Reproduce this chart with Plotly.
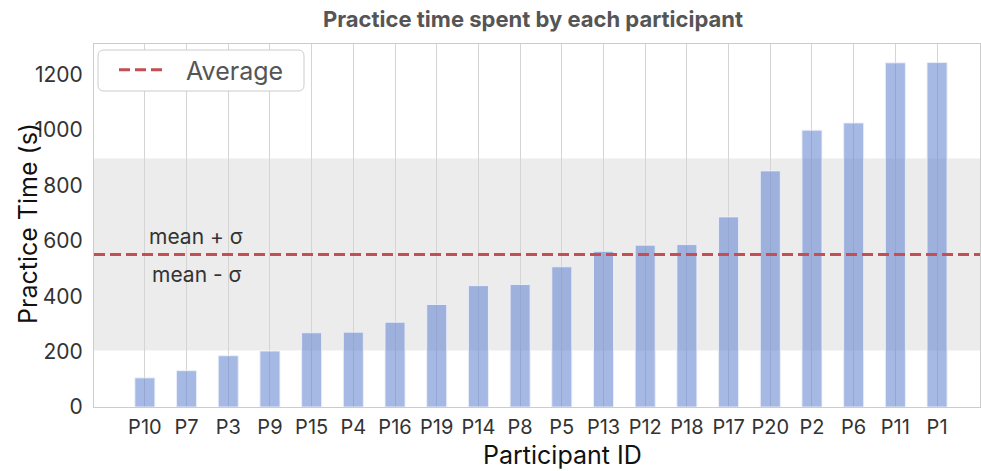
import numpy as np
import plotly.graph_objects as go

participants = ["P10", "P7", "P3", "P9", "P15", "P4", "P16", "P19", "P14", "P8",
                "P5", "P13", "P12", "P18", "P17", "P20", "P2", "P6", "P11", "P1"]
practice_time = [105, 131, 185, 202, 268, 270, 306, 370, 438, 442,
                 506, 562, 584, 586, 686, 852, 999, 1025, 1242, 1243]

mean_val = float(np.mean(practice_time))
std_val = float(np.std(practice_time))

FONT = "Inter, Roboto, sans-serif"

# plot-area pixel geometry (for paper-coordinate placement)
L, R, T, B = 94, 980, 44, 407
W, H = R - L, B - T


def px(x):
    return (x - L) / W


def py(y):
    return (B - y) / H


fig = go.Figure()
fig.add_trace(go.Bar(
    x=participants, y=practice_time, width=0.48,
    marker=dict(color="rgba(102,132,208,0.58)", line=dict(color="rgba(235,240,250,0.9)", width=1)),
    showlegend=False, hoverinfo="x+y",
))

# band mean ± sigma
fig.add_shape(type="rect", xref="paper", x0=0, x1=1, yref="y",
              y0=mean_val - std_val, y1=mean_val + std_val,
              fillcolor="#ececec", line=dict(width=0), layer="below")
# average line
fig.add_shape(type="line", xref="paper", x0=0, x1=1, yref="y", y0=mean_val, y1=mean_val,
              line=dict(color="#c44e52", width=3, dash="11px,5px"), layer="above",
              showlegend=True, name="\u00a0\u00a0Average")

# rounded legend frame
x0, x1, y0, y1 = px(98), px(304), py(91), py(50)
rx, ry = 6 / W, 6 / H
path = (f"M{x0+rx},{y0} L{x1-rx},{y0} Q{x1},{y0} {x1},{y0+ry} L{x1},{y1-ry} Q{x1},{y1} {x1-rx},{y1} "
        f"L{x0+rx},{y1} Q{x0},{y1} {x0},{y1-ry} L{x0},{y0+ry} Q{x0},{y0} {x0+rx},{y0} Z")
fig.add_shape(type="path", xref="paper", yref="paper", path=path,
              fillcolor="white", line=dict(color="#cccccc", width=1), layer="above")

fig.add_annotation(x=px(196), xref="paper", y=py(236), yref="paper", text="mean + σ",
                   showarrow=False, xanchor="center", yanchor="middle",
                   font=dict(family=FONT, size=21, color="#333333"))
fig.add_annotation(x=px(197), xref="paper", y=py(274), yref="paper", text="mean - σ",
                   showarrow=False, xanchor="center", yanchor="middle",
                   font=dict(family=FONT, size=21, color="#333333"))

# axis titles
fig.add_annotation(x=px(28), xref="paper", y=py(224), yref="paper", text="Practice Time (s)",
                   textangle=-90, showarrow=False, xanchor="center", yanchor="middle",
                   font=dict(family=FONT, size=25, color="#111111"))
fig.add_annotation(x=px(562), xref="paper", y=py(455), yref="paper", text="Participant ID",
                   showarrow=False, xanchor="center", yanchor="middle",
                   font=dict(family=FONT, size=25, color="#111111"))

fig.update_layout(
    width=981, height=471,
    margin=dict(l=L, r=981 - R, t=T, b=471 - B, autoexpand=False),
    paper_bgcolor="white", plot_bgcolor="white",
    font=dict(family=FONT, color="#333333"),
    title=dict(text="<b>Practice time spent by each participant</b>", xref="paper", x=px(533),
               xanchor="center", y=1 - 19 / 471, yanchor="middle",
               font=dict(family=FONT, size=22, color="#555555")),
    legend=dict(x=px(114), y=py(47), xanchor="left", yanchor="top",
                bgcolor="rgba(0,0,0,0)", borderwidth=0,
                font=dict(family=FONT, size=25, color="#555555"),
                itemwidth=48),
    xaxis=dict(
        range=[-1.22, 20.03], showgrid=True, gridcolor="#d4d4d4", gridwidth=1,
        showline=True, linecolor="#cccccc", linewidth=1, mirror=True,
        tickfont=dict(family=FONT, size=20, color="#333333"), ticks="",
        automargin=False, ticklabelstandoff=2,
    ),
    yaxis=dict(
        range=[0, 1310], tickvals=[0, 200, 400, 600, 800, 1000, 1200],
        showgrid=False, zeroline=False,
        showline=True, linecolor="#cccccc", linewidth=1, mirror=True,
        tickfont=dict(family=FONT, size=21, color="#333333"), ticks="",
        automargin=False, ticklabelstandoff=6,
    ),
)

fig.write_html("out.html", config={"displayModeBar": False},
               post_script="document.body.style.margin='0';document.body.style.overflow='hidden';")
